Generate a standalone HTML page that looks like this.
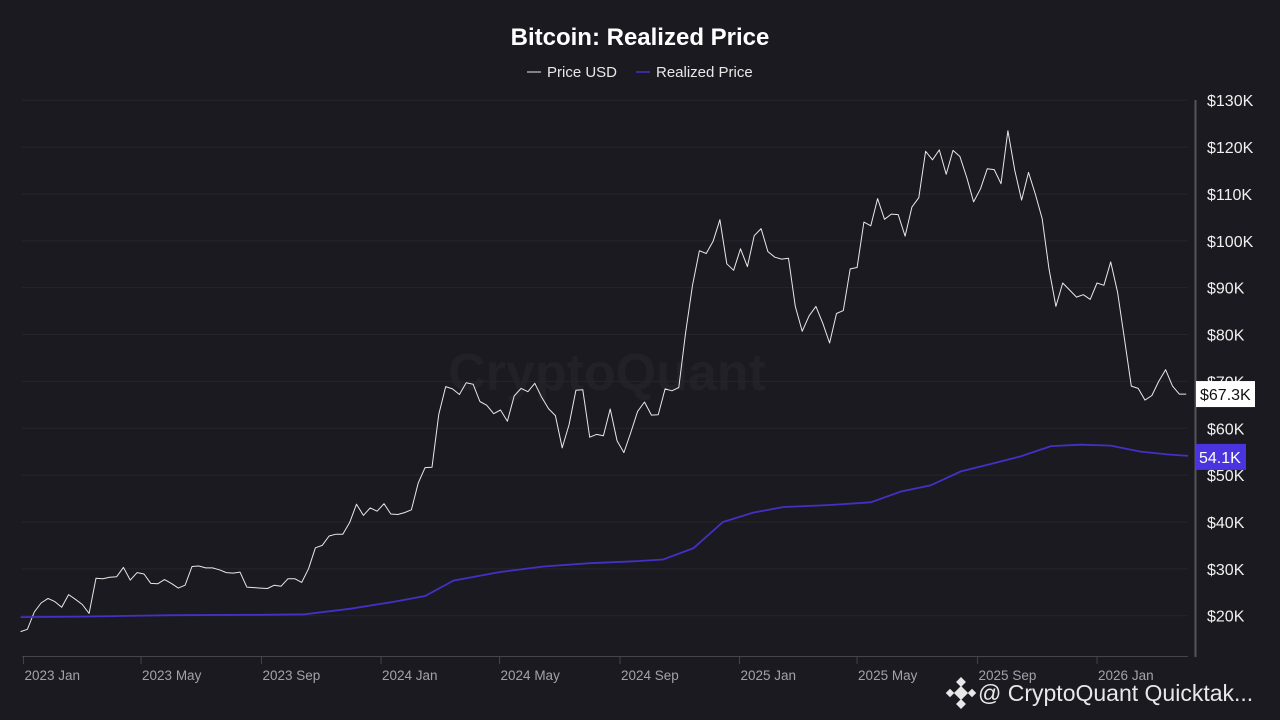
<!DOCTYPE html>
<html><head><meta charset="utf-8">
<style>
html,body{margin:0;padding:0;background:#1b1a20;width:1280px;height:720px;overflow:hidden;font-family:"Liberation Sans",sans-serif;}
</style></head>
<body>
<svg id="chart" width="1280" height="720" xmlns="http://www.w3.org/2000/svg">
<rect width="1280" height="720" fill="#1b1a20"/>
<text x="640" y="45" text-anchor="middle" fill="#ffffff" font-size="24" font-weight="bold">Bitcoin: Realized Price</text>
<g>
<g><line x1="527" y1="72" x2="541" y2="72" stroke="#e8e8e8" stroke-width="1"/><text x="547" y="77" fill="#e8e8e8" font-size="15">Price USD</text></g>
<g><line x1="636" y1="72" x2="650" y2="72" stroke="#4231c4" stroke-width="1.5"/><text x="656" y="77" fill="#e8e8e8" font-size="15">Realized Price</text></g>
</g>
<text x="607" y="390" text-anchor="middle" fill="#222127" font-size="52" font-weight="bold">CryptoQuant</text>
<g id="grid"></g>
<g id="xaxis"></g>
<g id="yaxis"></g>
<g id="series"></g>
<g id="tags"></g>
<g>
<g transform="translate(961,693)" fill="#e8e8e8">
<rect x="-5" y="-5" width="10" height="10" transform="rotate(45)"/>
<rect x="-3" y="-3" width="6" height="6" transform="translate(-11,0) rotate(45)"/>
<rect x="-3" y="-3" width="6" height="6" transform="translate(11,0) rotate(45)"/>
<rect x="-3.5" y="-3.5" width="7" height="7" transform="translate(0,-11) rotate(45)"/>
<rect x="-3.5" y="-3.5" width="7" height="7" transform="translate(0,11) rotate(45)"/>
</g>
<text x="978" y="701" fill="#e8e8e8" font-size="23">@ CryptoQuant Quicktak...</text>
</g>
</svg>
<script>
const yTicks=[20,30,40,50,60,70,80,90,100,110,120,130];
const xTickLabels=["2023 Jan","2023 May","2023 Sep","2024 Jan","2024 May","2024 Sep","2025 Jan","2025 May","2025 Sep","2026 Jan"];
const xTickDates=["2023-01-01","2023-05-01","2023-09-01","2024-01-01","2024-05-01","2024-09-01","2025-01-01","2025-05-01","2025-09-01","2026-01-01"];
const priceStart="2022-12-29";
const priceUSD=[16.6,17.1,20.8,22.7,23.7,23.0,21.8,24.5,23.5,22.4,20.5,28.0,27.9,28.2,28.3,30.3,27.6,29.2,28.9,26.9,26.8,27.7,26.9,25.9,26.5,30.5,30.6,30.2,30.2,29.8,29.2,29.1,29.3,26.1,26.0,25.9,25.8,26.5,26.3,27.9,27.9,27.1,30.0,34.5,35.0,37.0,37.4,37.4,39.9,43.8,41.4,43.0,42.3,
43.9,41.7,41.6,42.0,42.6,48.3,51.6,51.7,63.0,68.9,68.4,67.2,69.7,69.4,65.7,64.9,63.1,63.9,61.5,66.9,68.5,67.8,69.6,66.6,64.2,62.7,55.8,60.8,68.1,68.2,58.1,58.7,58.4,64.1,57.3,54.8,59.1,63.6,65.6,62.8,62.9,68.4,68.0,68.7,80.4,90.5,97.9,97.3,99.9,104.5,95.1,93.7,
98.3,94.5,101.1,102.6,97.7,96.5,96.1,96.3,86.0,80.7,84.0,86.0,82.4,78.2,84.5,85.1,94.0,94.3,104.0,103.2,109.0,104.6,105.7,105.6,101.0,107.2,109.2,119.1,117.3,119.4,114.2,119.3,118.0,113.5,108.3,111.1,115.4,115.2,112.2,123.5,115.0,108.7,114.6,110.0,104.7,94.0,86.0,91.0,89.5,88.0,88.5,87.5,
91.0,90.5,95.5,89.0,79.0,69.0,68.5,66.0,67.0,70.0,72.5,69.0,67.3,67.3];
const realizedDates=["2022-12-29","2023-03-01","2023-06-01","2023-09-01","2023-10-15","2023-12-01","2024-01-15","2024-02-15","2024-03-15","2024-05-01","2024-06-15","2024-08-01","2024-09-15","2024-10-15","2024-11-15","2024-12-15","2025-01-15","2025-02-15","2025-04-01","2025-05-15","2025-06-15","2025-07-15","2025-08-15","2025-09-15","2025-10-15","2025-11-15","2025-12-15","2026-01-15","2026-02-15","2026-03-15","2026-04-04"];
const realizedPrice=[19.7,19.8,20.1,20.2,20.3,21.5,23.0,24.2,27.5,29.3,30.5,31.2,31.6,32.0,34.4,40.0,42.0,43.2,43.6,44.2,46.5,47.8,50.8,52.4,54.0,56.2,56.5,56.3,55.0,54.4,54.1];

const X0=23.5,PXDAY=0.9795,Y20=615.7,PX10K=46.86;
const t0=Date.parse("2023-01-01");
function xScale(d){return X0+(Date.parse(d)-t0)/86400000*PXDAY;}
function xDay(n){return X0+n*PXDAY;}
function yScale(v){return Y20-(v-20)/10*PX10K;}
const NS="http://www.w3.org/2000/svg";
function mk(tag,attrs,parent){const e=document.createElementNS(NS,tag);for(const k in attrs)e.setAttribute(k,attrs[k]);parent.appendChild(e);return e;}
const grid=document.getElementById('grid'),xa=document.getElementById('xaxis'),ya=document.getElementById('yaxis'),ser=document.getElementById('series'),tags=document.getElementById('tags');
yTicks.forEach(v=>{
 const y=yScale(v);
 const g=mk('line',{x1:22,x2:1188,y1:y,y2:y,stroke:'#26252c','stroke-width':1},grid);
 
 
 const t=mk('text',{x:1207,y:y+6,fill:'#f0f0f0','font-size':16},ya);
 t.textContent='$'+v+'K';
 
 
});
const axl=mk('line',{x1:1195.5,x2:1195.5,y1:100,y2:657,stroke:'#55545c','stroke-width':2},ya);


const xl=mk('line',{x1:22,x2:1188,y1:656.5,y2:656.5,stroke:'#45444b','stroke-width':1},xa);


xTickDates.forEach((d,i)=>{
 const x=xScale(d);
 const tk=mk('line',{x1:x,x2:x,y1:657,y2:664,stroke:'#45444b'},xa);
 
 
 const t=mk('text',{x:x+1,y:680,fill:'#a3a2aa','font-size':13.5},xa);
 t.textContent=xTickLabels[i];
 
 
});
const ps=(Date.parse(priceStart)-t0)/86400000;
let pd=priceUSD.map((v,i)=>{const day=Math.min(ps+i*7,1189);return (i?'L':'M')+xDay(day).toFixed(1)+' '+yScale(v).toFixed(1);}).join(' ');
const pl=mk('path',{d:pd,fill:'none',stroke:'#e8e8e8','stroke-width':1,'stroke-linejoin':'round'},ser);


let rd=realizedPrice.map((v,i)=>(i?'L':'M')+xScale(realizedDates[i]).toFixed(1)+' '+yScale(v).toFixed(1)).join(' ');
const rl=mk('path',{d:rd,fill:'none',stroke:'#4231c4','stroke-width':1.8},ser);


const lp=priceUSD[priceUSD.length-1],lr=realizedPrice[realizedPrice.length-1];
const g1=mk('g',{},tags);


mk('rect',{x:1196,y:yScale(lp)-13,width:59,height:26,fill:'#ffffff'},g1);
const t1=mk('text',{x:1200,y:yScale(lp)+6,fill:'#111','font-size':16},g1);t1.textContent='$'+lp.toFixed(1)+'K';
const g2=mk('g',{},tags);


mk('rect',{x:1196,y:yScale(lr)-12,width:50,height:26,fill:'#4a34e0'},g2);
const t2=mk('text',{x:1199,y:yScale(lr)+7,fill:'#fff','font-size':16},g2);t2.textContent=lr.toFixed(1)+'K';
</script>
</body></html>
